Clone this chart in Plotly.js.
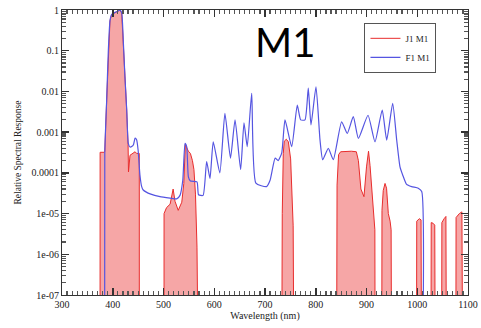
<!DOCTYPE html>
<html>
<head>
<meta charset="utf-8">
<script src="https://cdn.plot.ly/plotly-3.0.1.min.js"></script>
<style>html,body{margin:0;padding:0;background:#fff;}#chart{width:481px;height:328px;}</style>
</head>
<body>
<div id="chart"></div>
<script>
// F1 M1 (blue) spectral response
const f1Wavelength = [384,384.3,388,391.3,394.6,398,405,411,414,417.6,421,424,427.5,430.5,434,438,441,444,447,450,453.5,457,460,475,493,513,526,532.5,538,542.4,545.7,549,553,566,569,578,585,591.6,598,611,621,632,641,652,658.6,665,673.8,682,703,710,720,726,733,739.4,752.6,763.6,770.3,778.8,785.3,790.6,800.5,808.4,813.7,824.7,834.6,851,862,874,884,903,916.7,931,939.8,951.6,959.5,966,971.3,979,989,1002,1008.8,1010.3];
const f1Response = [1e-9,3e-4,6e-3,0.1,0.55,0.78,0.88,0.95,1.0,0.85,0.15,0.023,3.5e-3,5.4e-4,4.3e-4,4.5e-4,5e-4,7.1e-4,6.5e-4,3.6e-4,9e-5,4.6e-5,3.8e-5,3e-5,2.6e-5,2.4e-5,2.3e-5,2.8e-5,6.6e-5,5.3e-4,4.4e-4,8e-5,6.3e-5,6e-5,2.9e-5,2.8e-5,1.9e-4,7.3e-5,5.8e-4,1.0e-4,2.9e-3,2.3e-4,2.0e-3,1.2e-4,1.7e-3,4.4e-4,9e-3,5.6e-5,4.6e-5,6.6e-5,2.3e-4,2.0e-4,3.1e-4,2.0e-3,4.4e-4,4.6e-3,2.0e-3,2.0e-3,0.012,1.5e-3,0.013,6.4e-4,2.1e-4,4.0e-4,2.1e-4,1.8e-3,9.3e-4,2.4e-3,7e-4,2.6e-3,5.8e-4,3.5e-3,6.4e-4,5.1e-3,6.4e-4,1.4e-4,8.9e-5,5.2e-5,4.6e-5,4.2e-5,3.5e-5,1e-9];

// J1 M1 (red, filled) spectral response
const j1Wavelength = [375,375.1,383,384.3,388,391.3,394.6,398,405,411,414,417.6,421,424,427.5,430.2,431,434,438,444,447,450.4,452.3,452.4,
  501,501.1,506,513,519,522.7,529,536,540,543,546,549,553,557,560,563,566,568.5,
  733,734,736,738,742,746,750.5,753,755.5,757,
  841,842,845,849,870,880,884,889,895,900,904,907,910,914,916.5,917,
  930,930.5,933,936.5,939.5,943,946.5,948.5,949.5,
  998.5,999,1004,1007.5,1008.5,
  1027,1027.5,1031,1034.5,1035.5,
  1048,1048.5,1053,1056.5,1057.5,
  1076,1076.5,1083,1088,1089.5];
const j1Response = [1e-9,3.2e-4,3.2e-4,3.3e-4,6e-3,0.1,0.55,0.78,0.88,0.95,1.0,0.85,0.15,0.023,3.5e-3,5e-4,1.05e-4,2.7e-4,2.9e-4,3.3e-4,3e-4,3e-4,3e-4,1e-9,
  1e-9,1e-5,1.4e-5,1.7e-5,4e-5,2e-5,1.2e-5,1.9e-5,5.5e-5,5e-4,4e-4,3.4e-4,3e-4,2e-4,1.2e-4,3e-5,1.5e-6,1e-9,
  1e-9,1e-5,3e-4,6e-4,6.7e-4,5.8e-4,2.2e-4,5e-5,5e-6,1e-9,
  1e-9,5e-5,2.8e-4,3.3e-4,3.4e-4,3.3e-4,2e-4,4e-5,2.6e-5,1.4e-4,3.4e-4,1.5e-4,4e-5,1e-5,4e-6,1e-9,
  1e-9,1.2e-5,3.7e-5,5.5e-5,4.2e-5,1e-5,6.5e-6,4e-6,1e-9,
  1e-9,6.5e-6,7.5e-6,7e-6,1e-9,
  1e-9,6e-6,5.8e-6,5.2e-6,1e-9,
  1e-9,6e-6,7.5e-6,8.5e-6,1e-9,
  1e-9,8e-6,1e-5,1.1e-5,1e-9];

const seriesNames = ['J1 M1', 'F1 M1'];
const yTickVals = [1e-7,1e-6,1e-5,1e-4,1e-3,1e-2,1e-1,1];
const yTickText = ['1e-07','1e-06','1e-05','0.0001','0.001','0.01','0.1','1'];

// minor tick positions on the log axis (2..9 of each decade)
const yMinorVals = [];
for (let e = -7; e < 0; e++) for (let m = 2; m <= 9; m++) yMinorVals.push(m * Math.pow(10, e));

const serif = '"Liberation Serif", "Times New Roman", serif';

const traces = [
  {x: j1Wavelength, y: j1Response, name: seriesNames[0], type: 'scatter', mode: 'lines', showlegend: false,
   hoverinfo: 'skip', line: {color: 'rgba(0,0,0,0)', width: 0}, fill: 'toself', fillcolor: 'rgba(245,150,150,0.85)'},
  {x: j1Wavelength, y: j1Response, name: seriesNames[0], type: 'scatter', mode: 'lines',
   line: {color: 'rgb(232,45,45)', width: 1}},
  {x: f1Wavelength, y: f1Response, name: seriesNames[1], type: 'scatter', mode: 'lines',
   line: {color: 'rgb(85,85,225)', width: 1.2, shape: 'spline', smoothing: 0.5}}
];

const layout = {
  width: 481, height: 328,
  margin: {l: 62, r: 13, t: 10, b: 33},
  paper_bgcolor: '#fff', plot_bgcolor: '#fff',
  font: {family: serif, size: 10, color: '#222'},
  showlegend: true,
  legend: {x: 0.745, y: 0.955, xanchor: 'left', yanchor: 'top', itemwidth: 30,
    bgcolor: '#fff', bordercolor: '#555', borderwidth: 1,
    font: {family: serif, size: 9, color: '#222'}, tracegroupgap: 0},
  xaxis: {range: [300, 1100], tickmode: 'linear', tick0: 0, dtick: 100,
    ticks: 'inside', ticklen: 7, tickwidth: 1.5, tickcolor: '#333', showline: true, linecolor: '#333', linewidth: 1,
    mirror: 'allticks', showgrid: false, zeroline: false, layer: 'above traces',
    minor: {ticks: 'inside', ticklen: 4, tickwidth: 1.2, tickmode: 'linear', dtick: 10, tick0: 0, tickcolor: '#555', showgrid: false},
    tickfont: {family: serif, size: 10, color: '#222'},
    title: {text: 'Wavelength (nm)', font: {family: serif, size: 10, color: '#222'}, standoff: 2},
    automargin: false},
  yaxis: {type: 'log', range: [-7, 0], tickmode: 'array', tickvals: yTickVals, ticktext: yTickText,
    ticks: 'inside', ticklen: 7, tickwidth: 1.5, tickcolor: '#333', showline: true, linecolor: '#333', linewidth: 1,
    mirror: 'allticks', showgrid: false, zeroline: false, layer: 'above traces',
    minor: {ticks: 'inside', ticklen: 4, tickwidth: 1.2, tickmode: 'array', tickvals: yMinorVals, tickcolor: '#555', showgrid: false},
    tickfont: {family: serif, size: 10, color: '#222'},
    title: {text: 'Relative Spectral Response', font: {family: serif, size: 9.5, color: '#222'}, standoff: 8},
    automargin: false},
  annotations: [
    {text: 'M1', xref: 'paper', yref: 'paper', x: 0.55, y: 0.888, xanchor: 'center', yanchor: 'middle',
     showarrow: false, font: {family: 'Lato, sans-serif', size: 40, color: '#000'}}
  ]
};

Plotly.newPlot('chart', traces, layout, {displayModeBar: false, staticPlot: true});
</script>
</body>
</html>
